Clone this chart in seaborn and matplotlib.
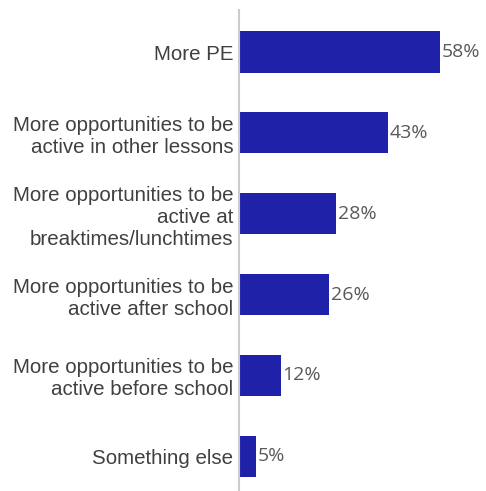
import matplotlib
matplotlib.use("Agg")
import matplotlib.pyplot as plt
import seaborn as sns
import pandas as pd

categories = [
    "More PE",
    "More opportunities to be\nactive in other lessons",
    "More opportunities to be\nactive at\nbreaktimes/lunchtimes",
    "More opportunities to be\nactive after school",
    "More opportunities to be\nactive before school",
    "Something else",
]
values = [58, 43, 28, 26, 12, 5]
value_labels = ["58%", "43%", "28%", "26%", "12%", "5%"]

df = pd.DataFrame({"category": categories, "value": values})

sns.set_style("white")
plt.rcParams["font.family"] = ["Liberation Sans", "DejaVu Sans"]

fig = plt.figure(figsize=(4.86, 4.91), dpi=100)
ax = fig.add_axes([239 / 486, 0.0, 1 - 239 / 486, 481 / 491])

sns.barplot(data=df, x="value", y="category", color="#1F22A8",
            width=0.51, saturation=1, linewidth=0, ax=ax, orient="h")

for i, (v, lab) in enumerate(zip(values, value_labels)):
    ax.text(v + 0.5, i, lab, va="center", ha="left", fontsize=14,
            color="#595959", family=["Open Sans", "DejaVu Sans"])

ax.set_xlim(0, 71.3)
ax.set_ylim(5.43, -0.52)
ax.set_xlabel("")
ax.set_ylabel("")
ax.set_xticks([])
ax.tick_params(axis="y", length=0, pad=4, labelsize=14.8, labelcolor="#404040")
for t in ax.get_yticklabels():
    t.set_linespacing(1.2)
for s in ["top", "right", "bottom"]:
    ax.spines[s].set_visible(False)
ax.spines["left"].set_color("#CCCCCC")
ax.spines["left"].set_linewidth(1.5)

fig.savefig("out.png", dpi=100)
